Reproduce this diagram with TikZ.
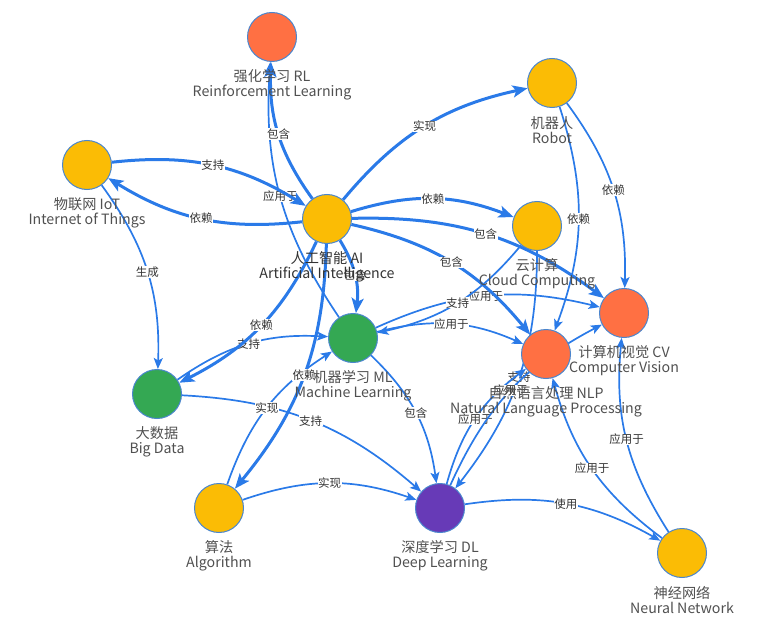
\documentclass[tikz,border=0pt]{standalone}
\usepackage{fontspec}
\newfontfamily\cjkfont{Noto Sans CJK SC}
\usetikzlibrary{arrows.meta,backgrounds}
\definecolor{graphcolor0000}{RGB}{255,112,67}
\definecolor{graphcolor0001}{RGB}{251,188,5}
\definecolor{graphcolor0002}{RGB}{52,168,83}
\definecolor{graphcolor0003}{RGB}{103,58,183}
\definecolor{graphcolor0004}{RGB}{42,122,232}
\definecolor{graphcolor0005}{RGB}{80,80,80}
\definecolor{graphcolor0006}{RGB}{51,51,51}
\definecolor{graphcolor0007}{RGB}{74,134,206}
\begin{document}
\begin{tikzpicture}[yscale=-1
                ,pstyle1/.style={circle,minimum size=49pt,inner sep=0pt,draw=graphcolor0007,line width=1pt}
                ,pstyle2/.style={align=center,font=\cjkfont\fontsize{14.2}{15}\selectfont,color=graphcolor0005,inner sep=0pt}
                ,pstyle3/.style={color=graphcolor0004,line width=3pt,-{Stealth[length=15pt,width=12pt,inset=3.5pt]},bend right=19}
                ,pstyle4/.style={color=graphcolor0004,line width=1.7pt,-{Stealth[length=11pt,width=9pt,inset=2.5pt]},bend right=19}
                ,pstyle5/.style={font=\cjkfont\fontsize{11.5}{12}\selectfont,text=graphcolor0006,fill=white,inner sep=0.5pt}
            ]
            \useasboundingbox (0pt,0pt) rectangle (774pt,623pt);
            \node[pstyle1,fill=graphcolor0000] (rl) at (272pt,37pt) {};
            \node[pstyle1,fill=graphcolor0001] (robot) at (552pt,83pt) {};
            \node[pstyle1,fill=graphcolor0001] (iot) at (87pt,165pt) {};
            \node[pstyle1,fill=graphcolor0001] (ai) at (327pt,219pt) {};
            \node[pstyle1,fill=graphcolor0001] (cloud) at (537pt,226pt) {};
            \node[pstyle1,fill=graphcolor0000] (cv) at (624pt,313pt) {};
            \node[pstyle1,fill=graphcolor0000] (nlp) at (546pt,354pt) {};
            \node[pstyle1,fill=graphcolor0002] (ml) at (353pt,338pt) {};
            \node[pstyle1,fill=graphcolor0002] (bd) at (157pt,394pt) {};
            \node[pstyle1,fill=graphcolor0001] (algo) at (219pt,508pt) {};
            \node[pstyle1,fill=graphcolor0003] (dl) at (440pt,508pt) {};
            \node[pstyle1,fill=graphcolor0001] (nn) at (682pt,553pt) {};
            \node[pstyle2] (rl-t) at (272pt,84.5pt) {强化学习 RL\\Reinforcement Learning};
            \node[pstyle2] (robot-t) at (552pt,130.5pt) {机器人\\Robot};
            \node[pstyle2] (iot-t) at (87pt,212.5pt) {物联网 IoT\\Internet of Things};
            \node[pstyle2,color=graphcolor0006] (ai-t) at (327pt,266.5pt) {人工智能 AI\\Artificial Intelligence};
            \node[pstyle2] (cloud-t) at (537pt,273.5pt) {云计算\\Cloud Computing};
            \node[pstyle2] (cv-t) at (624pt,360.5pt) {计算机视觉 CV\\Computer Vision};
            \node[pstyle2] (nlp-t) at (546pt,401.5pt) {自然语言处理 NLP\\Natural Language Processing};
            \node[pstyle2] (ml-t) at (353pt,385.5pt) {机器学习 ML\\Machine Learning};
            \node[pstyle2] (bd-t) at (157pt,441.5pt) {大数据\\Big Data};
            \node[pstyle2] (algo-t) at (219pt,555.5pt) {算法\\Algorithm};
            \node[pstyle2] (dl-t) at (440pt,555.5pt) {深度学习 DL\\Deep Learning};
            \node[pstyle2] (nn-t) at (682pt,600.5pt) {神经网络\\Neural Network};
            \begin{pgfonlayer}{background}
            \draw[pstyle4] (ml) to node[pstyle5]{应用于} (rl);
            \draw[pstyle4] (iot) to node[pstyle5]{生成} (bd);
            \draw[pstyle4] (robot) to node[pstyle5]{依赖} (nlp);
            \draw[pstyle4] (robot) to node[pstyle5]{依赖} (cv);
            \draw[pstyle4] (bd) to node[pstyle5]{支持} (ml);
            \draw[pstyle4] (bd) to node[pstyle5]{支持} (dl);
            \draw[pstyle4] (algo) to node[pstyle5]{实现} (ml);
            \draw[pstyle4] (algo) to node[pstyle5]{实现} (dl);
            \draw[pstyle4] (ml) to node[pstyle5]{包含} (dl);
            \draw[pstyle4] (ml) to node[pstyle5]{应用于} (nlp);
            \draw[pstyle4] (ml) to node[pstyle5]{应用于} (cv);
            \draw[pstyle4] (cloud) to node[pstyle5]{支持} (ml);
            \draw[pstyle4] (cloud) to node[pstyle5]{支持} (dl);
            \draw[pstyle4] (dl) to node[pstyle5]{应用于} (nlp);
            \draw[pstyle4] (dl) to node[pstyle5]{应用于} (cv);
            \draw[pstyle4] (nn) to node[pstyle5]{应用于} (nlp);
            \draw[pstyle4] (nn) to node[pstyle5]{应用于} (cv);
            \draw[pstyle4] (dl) to node[pstyle5]{使用} (nn);
            \draw[pstyle3] (ai) to node[pstyle5]{包含} (rl);
            \draw[pstyle3] (ai) to node[pstyle5]{依赖} (iot);
            \draw[pstyle3] (iot) to node[pstyle5]{支持} (ai);
            \draw[pstyle3] (ai) to node[pstyle5]{实现} (robot);
            \draw[pstyle3] (ai) to node[pstyle5]{依赖} (cloud);
            \draw[pstyle3] (ai) to node[pstyle5]{包含} (cv);
            \draw[pstyle3] (ai) to node[pstyle5]{包含} (nlp);
            \draw[pstyle3] (ai) to node[pstyle5]{包含} (ml);
            \draw[pstyle3] (ai) to node[pstyle5]{依赖} (bd);
            \draw[pstyle3] (ai) to node[pstyle5]{依赖} (algo);
            \end{pgfonlayer}
        \end{tikzpicture}
\end{document}
